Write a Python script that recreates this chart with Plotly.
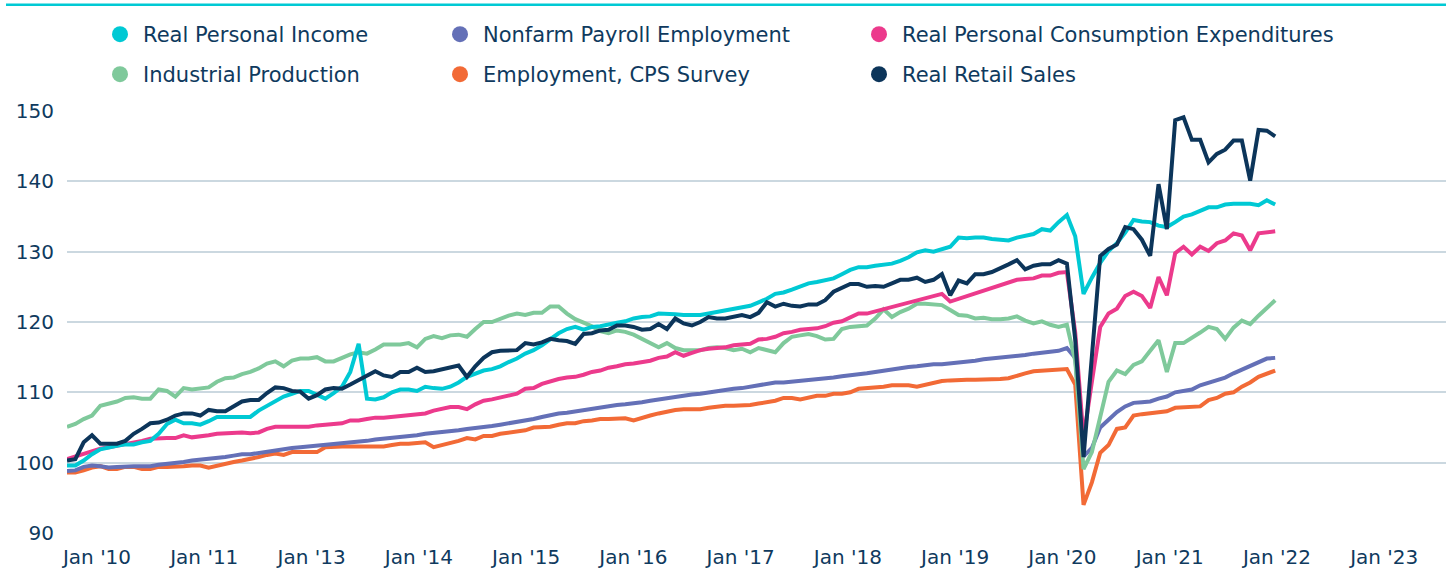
import plotly.graph_objects as go

# ---------------- data (monthly index values) ----------------
real_personal_income = [
    99.6, 99.6, 100.3, 101.2, 101.9, 102.2, 102.4, 102.6, 102.6, 102.9,
    103.1, 104.1, 105.5, 106.1, 105.6, 105.6, 105.4, 105.9, 106.5, 106.5,
    106.5, 106.5, 106.5, 107.4, 108.1, 108.8, 109.4, 109.8, 110.2, 110.2,
    109.6, 109.1, 109.9, 110.8, 112.9, 116.9, 109.1, 109.0, 109.3, 110.0,
    110.4, 110.4, 110.2, 110.8, 110.6, 110.5, 110.8, 111.4, 112.2, 112.7,
    113.1, 113.3, 113.7, 114.3, 114.8, 115.5, 116.0, 116.7, 117.5, 118.4,
    119.0, 119.3, 118.9, 119.3, 119.4, 119.7, 119.9, 120.1, 120.5, 120.7,
    120.8, 121.2, 121.2, 121.1, 121.0, 121.0, 121.0, 121.2, 121.4, 121.7,
    121.8, 122.0, 122.3, 122.8, 123.3, 124.0, 124.2, 124.6, 125.1, 125.5,
    125.7, 126.0, 126.2, 126.8, 127.4, 127.8, 127.8, 128.0, 128.1, 128.3,
    128.7, 129.2, 129.9, 130.2, 130.0, 130.3, 130.7, 132.0, 131.9, 132.0,
    132.0, 131.8, 131.7, 131.6, 132.0, 132.3, 132.5, 133.2, 133.0, 134.2,
    135.2, 132.2, 124.0, 126.3, 128.4, 130.1, 131.2, 132.7, 134.5, 134.3,
    134.2, 133.7, 133.5, 134.2, 135.0, 135.3, 135.8, 136.3, 136.3, 136.7,
    136.8, 136.8, 136.8, 136.6, 137.3, 136.7,
]

nonfarm_payroll = [
    98.8, 98.9, 99.4, 99.6, 99.5, 99.3, 99.4, 99.5, 99.5, 99.5,
    99.5, 99.7, 99.8, 99.9, 100.1, 100.3, 100.4, 100.5, 100.6, 100.8,
    101.0, 101.2, 101.2, 101.4, 101.6, 101.8, 102.0, 102.1, 102.2, 102.3,
    102.4, 102.6, 102.7, 102.8, 102.9, 103.0, 103.1, 103.3, 103.4, 103.6,
    103.7, 103.8, 103.9, 104.1, 104.2, 104.3, 104.4, 104.6, 104.8, 104.9,
    105.0, 105.2, 105.4, 105.6, 105.7, 106.0, 106.2, 106.5, 106.8, 107.0,
    107.1, 107.3, 107.5, 107.7, 107.9, 108.0, 108.2, 108.3, 108.4, 108.6,
    108.8, 109.0, 109.2, 109.4, 109.5, 109.7, 109.8, 110.0, 110.1, 110.3,
    110.5, 110.6, 110.8, 111.0, 111.2, 111.4, 111.4, 111.5, 111.6, 111.8,
    111.9, 112.0, 112.1, 112.3, 112.4, 112.5, 112.7, 112.9, 113.1, 113.3,
    113.5, 113.6, 113.7, 113.9, 114.0, 114.0, 114.1, 114.3, 114.4, 114.5,
    114.7, 114.8, 114.9, 115.0, 115.1, 115.3, 115.5, 115.6, 115.7, 115.9,
    116.3, 114.9, 100.9, 102.1, 105.0, 106.2, 107.2, 108.0, 108.5, 108.6,
    108.7, 109.1, 109.4, 110.0, 110.2, 110.4, 111.0, 111.4, 111.8, 112.1,
    112.7, 113.2, 113.7, 114.3, 114.8, 114.9,
]

real_pce = [
    100.5, 100.9, 101.3, 101.7, 102.0, 102.2, 102.4, 102.7, 102.8, 103.1,
    103.4, 103.5, 103.5, 103.5, 103.9, 103.6, 103.7, 103.9, 104.1, 104.2,
    104.2, 104.3, 104.2, 104.3, 104.8, 105.1, 105.1, 105.1, 105.1, 105.1,
    105.3, 105.4, 105.5, 105.6, 106.0, 106.0, 106.2, 106.4, 106.4, 106.5,
    106.6, 106.7, 106.8, 107.0, 107.4, 107.6, 107.9, 107.9, 107.6, 108.3,
    108.8, 109.0, 109.3, 109.5, 109.8, 110.5, 110.6, 111.2, 111.6, 111.9,
    112.1, 112.2, 112.5, 112.9, 113.1, 113.5, 113.7, 114.0, 114.1, 114.3,
    114.5, 114.9, 115.1, 115.7, 115.2, 115.6, 116.0, 116.2, 116.3, 116.4,
    116.7, 116.8, 116.9, 117.5, 117.6, 117.9, 118.4, 118.6, 118.9, 119.0,
    119.1, 119.4, 119.9, 120.1, 120.7, 121.2, 121.2, 121.5, 121.9, 122.2,
    122.5, 122.8, 123.1, 123.3, 123.6, 124.0, 122.9, 123.3, 123.6, 124.1,
    124.5, 124.9, 125.2, 125.6, 126.0, 126.1, 126.2, 126.6, 126.6, 127.0,
    127.1, 118.5, 103.5, 111.5, 119.3, 121.2, 121.9, 123.7, 124.3, 123.7,
    122.0, 126.4, 123.8, 129.8, 130.7, 129.6, 130.7, 130.1, 131.2, 131.6,
    132.6, 132.3, 130.2, 132.6, 132.8, 132.9,
]

industrial_production = [
    105.1, 105.5, 106.2, 106.7, 108.1, 108.4, 108.7, 109.2, 109.3, 109.1,
    109.1, 110.4, 110.2, 109.4, 110.6, 110.4, 110.5, 110.7, 111.5, 112.0,
    112.1, 112.6, 112.9, 113.4, 114.1, 114.4, 113.7, 114.5, 114.8, 114.8,
    115.0, 114.4, 114.4, 114.9, 115.4, 115.7, 115.5, 116.1, 116.8, 116.8,
    116.8, 117.0, 116.4, 117.6, 118.0, 117.7, 118.1, 118.2, 117.9, 119.0,
    120.0, 120.0, 120.5, 120.9, 121.2, 121.0, 121.3, 121.3, 122.2, 122.2,
    121.2, 120.4, 119.9, 119.4, 118.7, 118.4, 118.8, 118.6, 118.2, 117.6,
    116.9, 116.4, 117.0, 116.3, 116.0, 116.0, 116.0, 116.3, 116.4, 116.3,
    116.0, 116.2, 115.7, 116.3, 116.0, 115.7, 117.0, 117.9, 118.1, 118.3,
    118.0, 117.5, 117.6, 119.0, 119.3, 119.4, 119.5, 120.5, 121.8, 120.7,
    121.4, 121.9, 122.6, 122.6, 122.5, 122.4, 121.7, 121.0, 120.9, 120.5,
    120.6, 120.4, 120.4, 120.5, 120.8, 120.2, 119.8, 120.1, 119.6, 119.3,
    119.6, 114.5, 99.1, 101.5, 106.5, 111.5, 113.1, 112.6, 113.9, 114.4,
    115.9, 117.4, 112.9, 117.0, 117.0, 117.7, 118.5, 119.3, 119.0, 117.6,
    119.2, 120.2, 119.7, 120.9, 122.1, 123.1,
]

employment_cps = [
    98.6, 98.6, 98.9, 99.3, 99.5, 99.1, 99.1, 99.4, 99.4, 99.1,
    99.1, 99.4, 99.4, 99.4, 99.5, 99.6, 99.6, 99.3, 99.6, 99.8,
    100.1, 100.3, 100.5, 100.8, 101.1, 101.3, 101.1, 101.5, 101.5, 101.5,
    101.5, 102.2, 102.3, 102.3, 102.3, 102.3, 102.3, 102.3, 102.3, 102.5,
    102.7, 102.7, 102.8, 102.9, 102.2, 102.5, 102.7, 103.1, 103.5, 103.3,
    103.8, 103.8, 104.1, 104.3, 104.5, 104.6, 105.0, 105.0, 105.1, 105.4,
    105.6, 105.6, 105.9, 106.0, 106.2, 106.2, 106.2, 106.3, 106.0, 106.4,
    106.7, 107.0, 107.3, 107.5, 107.6, 107.6, 107.6, 107.8, 108.0, 108.1,
    108.1, 108.1, 108.2, 108.4, 108.6, 108.8, 109.2, 109.2, 109.0, 109.3,
    109.5, 109.5, 109.8, 109.8, 110.0, 110.5, 110.6, 110.6, 110.8, 111.0,
    111.0, 111.0, 110.8, 111.1, 111.4, 111.6, 111.7, 111.8, 111.8, 111.8,
    111.8, 111.8, 111.9, 112.0, 112.4, 112.7, 113.0, 113.1, 113.2, 113.3,
    113.3, 111.1, 94.0, 97.2, 101.4, 102.5, 104.8, 105.0, 106.7, 106.9,
    107.0, 107.1, 107.3, 107.8, 107.9, 108.0, 108.0, 108.9, 109.2, 109.8,
    110.0, 110.8, 111.4, 112.2, 112.6, 113.1,
]

real_retail_sales = [
    100.3, 100.5, 102.9, 103.9, 102.7, 102.7, 102.7, 103.1, 104.1, 104.8,
    105.6, 105.7, 106.1, 106.7, 107.0, 107.0, 106.7, 107.5, 107.3, 107.3,
    108.0, 108.7, 108.9, 108.9, 109.9, 110.7, 110.6, 110.2, 110.1, 109.1,
    109.6, 110.4, 110.6, 110.5, 111.1, 111.7, 112.3, 113.0, 112.4, 112.2,
    112.9, 112.9, 113.5, 112.9, 113.0, 113.3, 113.5, 113.8, 112.2, 113.7,
    114.9, 115.7, 115.9, 116.0, 116.0, 117.0, 116.8, 117.1, 117.6, 117.4,
    117.3, 116.9, 118.3, 118.4, 118.8, 118.9, 119.5, 119.5, 119.3, 118.9,
    119.0, 119.7, 119.0, 120.5, 119.8, 119.5, 120.0, 120.7, 120.5, 120.5,
    120.8, 121.0, 120.7, 121.3, 122.8, 122.2, 122.6, 122.3, 122.2, 122.5,
    122.5, 123.1, 124.3, 124.8, 125.4, 125.4, 125.0, 125.1, 125.0, 125.5,
    126.0, 126.0, 126.3, 125.7, 126.0, 126.8, 123.8, 125.9, 125.5, 126.8,
    126.8, 127.1, 127.6, 128.2, 128.8, 127.5, 128.0, 128.2, 128.2, 128.8,
    128.3, 117.5, 100.8, 115.5, 129.4, 130.4, 131.0, 133.5, 133.2, 131.7,
    129.4, 139.6, 133.2, 148.7, 149.1, 145.9, 145.9, 142.7, 143.9, 144.5,
    145.8, 145.8, 140.1, 147.3, 147.2, 146.4,
]

tick_labels = ["Jan '10", "Jan '11", "Jan '13", "Jan '14", "Jan '15", "Jan '16",
               "Jan '17", "Jan '18", "Jan '19", "Jan '20", "Jan '21", "Jan '22",
               "Jan '23"]
y_ticks = [90, 100, 110, 120, 130, 140, 150]

series = [
    # name, values, colour, legend slot
    ("Employment, CPS Survey", employment_cps, "#F26A36", "legend5"),
    ("Nonfarm Payroll Employment", nonfarm_payroll, "#6470B7", "legend2"),
    ("Industrial Production", industrial_production, "#7FC99B", "legend4"),
    ("Real Personal Consumption Expenditures", real_pce, "#EC3A8C", "legend3"),
    ("Real Personal Income", real_personal_income, "#00C9D4", "legend"),
    ("Real Retail Sales", real_retail_sales, "#0C355A", "legend6"),
]

TEXT = "#0F3A5E"
FONT = "DejaVu Sans"

n = len(real_retail_sales)
x_idx = list(range(n))

fig = go.Figure()
for name, vals, col, lg in series:
    fig.add_trace(go.Scatter(
        x=x_idx, y=vals, mode="lines", name=name,
        line=dict(color=col, width=4), showlegend=False, hoverinfo="skip"))
for name, vals, col, lg in series:
    fig.add_trace(go.Scatter(
        x=[None], y=[None], mode="markers", name=name, legend=lg,
        marker=dict(color=col, size=16, symbol="circle"), showlegend=True))

W, H = 1452, 572
PL, PR, PT, PB = 67, 1446, 110.7, 532.7


def leg(marker_x, py):
    left = marker_x - 23
    return dict(x=left / W, y=1 - py / H, xref="container",
                yref="container", xanchor="left", yanchor="middle",
                orientation="v", itemwidth=36,
                bgcolor="rgba(0,0,0,0)", borderwidth=0,
                font=dict(family=FONT, size=21, color=TEXT))


col_x = [120, 460, 879]
row_y = [34.5, 74.5]

# tick positions spread evenly across the axis
first_tick, tick_step = 3.6, 12.874
tick_pos = [first_tick + tick_step * k for k in range(len(tick_labels))]

pw, ph = PR - PL, PB - PT
top_y = (PB - 4.5) / ph

fig.update_layout(
    width=W, height=H,
    paper_bgcolor="white", plot_bgcolor="white",
    margin=dict(l=PL, r=W - PR, t=PT, b=H - PB, autoexpand=False),
    legend=leg(col_x[0], row_y[0]),
    legend2=leg(col_x[1], row_y[0]),
    legend3=leg(col_x[2], row_y[0]),
    legend4=leg(col_x[0], row_y[1]),
    legend5=leg(col_x[1], row_y[1]),
    legend6=leg(col_x[2], row_y[1]),
    xaxis=dict(range=[0, 165.5], tickvals=tick_pos, ticktext=tick_labels,
               showgrid=False, zeroline=False, showline=False, ticks="",
               ticklabelstandoff=10,
               tickfont=dict(family=FONT, size=20, color=TEXT)),
    yaxis=dict(range=[90, 150], tickvals=y_ticks, showgrid=True,
               gridcolor="#CBD8E0", gridwidth=1.5, zeroline=False,
               showline=False, ticks="", ticklabelstandoff=12,
               tickfont=dict(family=FONT, size=20, color=TEXT)),
    shapes=[dict(type="line", xref="paper", yref="paper",
                 x0=(6 - 67) / pw, x1=1.0, y0=top_y, y1=top_y,
                 line=dict(color="#00C9D4", width=2.5))],
    showlegend=True,
)

fig.write_html("out.html",
               config={"displayModeBar": False},
               post_script="document.body.style.margin='0px';"
                           "document.body.style.overflow='hidden';")
